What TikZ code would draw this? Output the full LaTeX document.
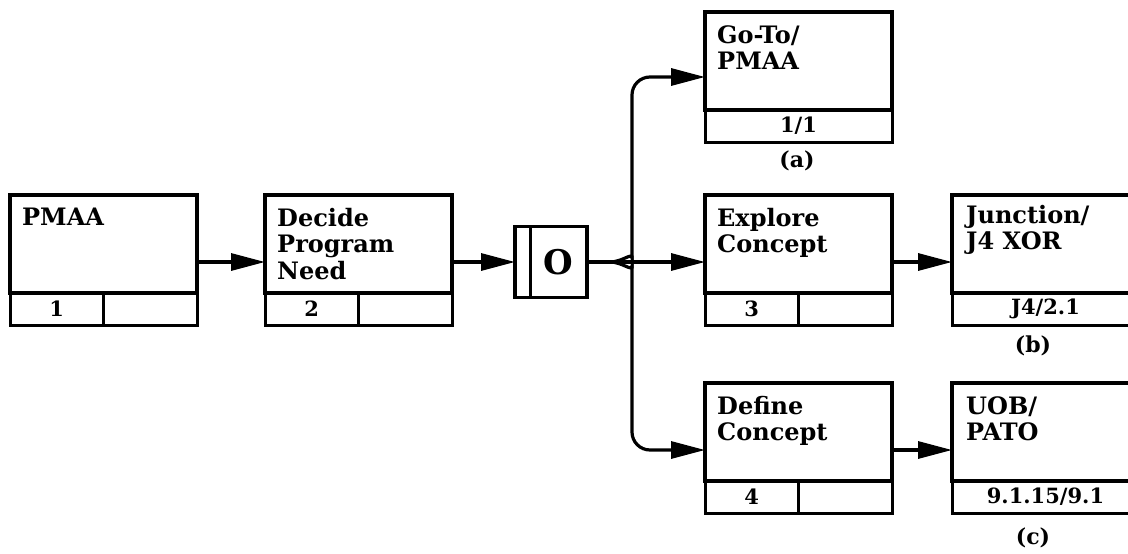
\documentclass[tikz,border=0pt]{standalone}
\usepackage{fontspec}
\setmainfont{DejaVu Serif}
\usetikzlibrary{arrows.meta,calc}
\begin{document}
\begin{tikzpicture}[x=1pt,y=-1pt,
  mainbox/.style={draw, line width=3.4pt, minimum width=187pt, minimum height=98pt, inner sep=0pt, outer sep=0pt, anchor=north west},
  cellbox/.style={draw, line width=3pt, minimum height=32pt, inner sep=0pt, outer sep=0pt, anchor=north west, font=\bfseries\fontsize{21}{22}\selectfont},
  halfcell/.style={cellbox, minimum width=93.5pt},
  fullcell/.style={cellbox, minimum width=187pt},
  title/.style={anchor=north west, align=left, inner sep=0pt, font=\bfseries\fontsize{24}{26.5}\selectfont},
  tag/.style={font=\bfseries\fontsize{22}{24}\selectfont, inner sep=0pt},
  obox/.style={draw, line width=3.4pt, minimum width=72pt, minimum height=71pt, inner sep=0pt, outer sep=0pt},
  conn/.style={line width=3.2pt, -{Triangle[length=34pt,width=17pt]}},
  plain/.style={line width=3.2pt},
]
\useasboundingbox (0,0) rectangle (1128,554);
\clip (0,0) rectangle (1128,554);

% main boxes
\node[mainbox] (b1) at (10,195) {};
\node[mainbox] (b2) at (265,195) {};
\node[mainbox] (ga) at (705,12) {};
\node[mainbox] (b3) at (705,195) {};
\node[mainbox] (b4) at (705,383) {};
\node[mainbox] (jb) at (952,195) {};
\node[mainbox] (uc) at (952,383) {};

% titles
\node[title] (t1) at ([xshift=12pt,yshift=-13pt]b1.north west) {PMAA};
\node[title] (t2) at ([xshift=12pt,yshift=-13pt]b2.north west) {Decide\\Program\\Need};
\node[title] (ta) at ([xshift=12pt,yshift=-13pt]ga.north west) {Go-To/\\PMAA};
\node[title] (t3) at ([xshift=12pt,yshift=-13pt]b3.north west) {Explore\\Concept};
\node[title] (t4) at ([xshift=12pt,yshift=-13pt]b4.north west) {Define\\Concept};
\node[title] (tb) at ([xshift=14pt,yshift=-10pt]jb.north west) {Junction/\\J4 XOR};
\node[title] (tc) at ([xshift=14pt,yshift=-13pt]uc.north west) {UOB/\\PATO};

% strips
\node[halfcell] (s1a) at (b1.south west) {1};
\node[halfcell] (s1b) at (s1a.north east) {};
\node[halfcell] (s2a) at (b2.south west) {2};
\node[halfcell] (s2b) at (s2a.north east) {};
\node[halfcell] (s3a) at (b3.south west) {3};
\node[halfcell] (s3b) at (s3a.north east) {};
\node[halfcell] (s4a) at (b4.south west) {4};
\node[halfcell] (s4b) at (s4a.north east) {};
\node[fullcell] (sa) at (ga.south west) {1/1};
\node[fullcell] (sb) at (jb.south west) {J4/2.1};
\node[fullcell] (sc) at (uc.south west) {9.1.15/9.1};

% O box
\node[obox] (o) at (551,262) {};
\draw[line width=3pt] ([xshift=15pt]o.north west) -- ([xshift=15pt]o.south west);
\node[font=\bfseries\fontsize{34}{34}\selectfont, inner sep=0pt] (ol) at ([xshift=7.5pt]o.center) {O};

% tags
\node[tag] (la) at (797,161) {(a)};
\node[tag] (lb) at (1033,346) {(b)};
\node[tag] (lc) at (1033,538) {(c)};

% connectors
\coordinate (j) at (610,262);
\coordinate (ju) at (632,240);
\coordinate (jd) at (632,284);
\draw[conn] ([yshift=31pt]b1.south east) -- ([yshift=31pt]b1.south east -| b2.west);
\draw[conn] ([yshift=31pt]b2.south east) -- ([yshift=31pt]b2.south east -| o.west);
\draw[plain] (o.east) -- (j);
\draw[conn] (j) -- (j -| b3.west);
\draw[conn, rounded corners=18pt] (j) to[out=0,in=-90] (ju) |- ([yshift=33pt]ga.south west);
\draw[conn, rounded corners=18pt] (j) to[out=0,in=90] (jd) |- ([yshift=31pt]b4.south west);
\draw[conn] ([yshift=31pt]b3.south east) -- ([yshift=31pt]b3.south east -| jb.west);
\draw[conn] ([yshift=31pt]b4.south east) -- ([yshift=31pt]b4.south east -| uc.west);
\end{tikzpicture}
\end{document}
